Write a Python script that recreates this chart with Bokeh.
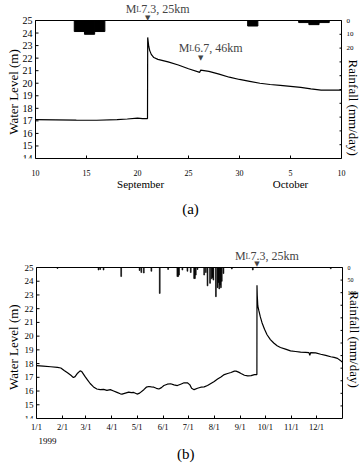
from math import pi

from bokeh.core.properties import value
from bokeh.embed import file_html
from bokeh.layouts import column
from bokeh.models import FixedTicker, Label, LinearAxis, Range1d
from bokeh.plotting import figure
from bokeh.resources import INLINE

SERIF = "Liberation Serif"
WIDTH = 363
BOX_W = 306          # width of the boxed plotting area in pixels

# ---------------- (a) 10 Sep - 10 Oct 1999 (days after 10 Sep 00:00) ----------------
a_time = [0, 2, 4, 6, 8, 9, 10, 10.5, 10.98, 11.0, 11.05, 11.1, 11.2, 11.35, 11.6,
          12, 13, 14, 15, 16.1, 16.2, 17, 18, 19, 20, 21, 22, 23, 24, 25, 26, 27,
          28, 29, 30]
a_level = [17.1, 17.08, 17.06, 17.05, 17.1, 17.15, 17.22, 17.18, 17.18, 23.65, 23.3,
           22.95, 22.6, 22.3, 22.05, 21.9, 21.7, 21.45, 21.15, 20.87, 21.05, 20.95,
           20.72, 20.48, 20.3, 20.15, 20.0, 19.9, 19.83, 19.75, 19.67, 19.55, 19.45,
           19.45, 19.45]
a_rain_day = [4, 5, 6, 21, 26, 27, 28]
a_rain_mm = [8, 10, 8, 4, 1.5, 3, 1.5]
a_day_ticks = [0, 5, 10, 15, 20, 25, 30]
a_day_labels = ["10", "15", "20", "25", "30", "5", "10"]
a_month_ticks = [10.3, 25]
a_month_labels = ["September", "October"]
a_caption_tick = [15.2]
a_caption = ["(a)"]
a_rain_ticks = [0, 10, 20, 30, 40, 50, 60, 70, 80, 90, 100]
a_rain_labelled = [0, 10, 20]
a_events = [11.0, 16.2]
a_event_text = ["7.3, 25km", "6.7, 46km"]

# ---------------- (b) whole year 1999 (day of year, 1 Jan = 0) ----------------
b_day = [0, 8, 17, 25, 29, 33, 37, 41, 44, 46, 49, 52, 54, 58, 61, 64, 68, 72, 76,
         80, 84, 88, 92, 96, 100, 102, 106, 110, 113, 116, 120, 123, 128, 131, 134,
         137, 140, 143, 146, 149, 152, 156, 160, 164, 168, 172, 176, 180, 183, 185,
         188, 192, 196, 200, 204, 208, 212, 216, 220, 224, 228, 232, 236, 238, 241,
         244, 248, 252, 256, 260, 262.9, 263.0, 263.3, 264, 265.3, 267, 269, 272,
         275, 279, 283, 287, 291, 297, 303, 309, 315, 321, 325, 326, 327, 333, 339,
         345, 351, 355, 359, 362, 365]
b_level = [17.85, 17.82, 17.77, 17.72, 17.68, 17.5, 17.33, 17.15, 16.98, 17.05, 17.3,
           17.47, 17.42, 17.05, 16.8, 16.55, 16.3, 16.15, 16.1, 16.12, 16.05, 16.1,
           16.0, 15.9, 15.8, 15.78, 15.85, 15.92, 15.88, 15.9, 15.78, 15.85, 16.1,
           16.28, 16.33, 16.3, 16.28, 16.2, 16.15, 16.25, 16.4, 16.5, 16.53, 16.45,
           16.4, 16.5, 16.6, 16.6, 16.45, 16.2, 16.1, 16.2, 16.28, 16.3, 16.4, 16.55,
           16.7, 16.88, 17.03, 17.2, 17.28, 17.35, 17.45, 17.45, 17.38, 17.28, 17.15,
           17.1, 17.12, 17.2, 17.2, 23.7, 23.0, 22.2, 21.84, 21.4, 20.98, 20.5, 20.1,
           19.75, 19.5, 19.3, 19.17, 19.05, 18.93, 18.88, 18.83, 18.82, 18.8, 18.6,
           18.8, 18.78, 18.68, 18.6, 18.5, 18.45, 18.38, 18.25, 18.1]
b_rain_day = [25, 74, 76, 80, 101, 123, 125, 128, 137, 147, 157, 168, 169, 170, 174,
              180, 184, 188, 189, 190, 192, 200, 202, 204, 207, 209, 210, 211, 214,
              216, 217, 218, 219, 220, 221, 223, 233, 258, 351]
b_rain_mm = [4, 10, 8, 10, 36, 12, 20, 22, 15, 103, 8, 36, 36, 30, 10, 15, 20, 44,
             44, 30, 8, 30, 20, 73, 63, 45, 40, 50, 116, 80, 60, 85, 70, 80, 55, 24,
             6, 10, 5]
b_month_ticks = [0, 31, 59, 90, 120, 151, 181, 212, 243, 273, 304, 334]
b_month_labels = ["1/1", "2/1", "3/1", "4/1", "5/1", "6/1", "7/1", "8/1", "9/1",
                  "10/1", "11/1", "12/1"]
b_year_ticks = [13]
b_year_labels = ["1999"]
b_caption_tick = [178]
b_caption = ["(b)"]
b_rain_ticks = [0, 50, 100, 150, 200, 250, 300, 350, 400, 450, 500, 550, 600]
b_rain_labelled = [0, 50, 100]
b_events = [263.0]
b_event_text = ["7.3, 25km"]

level_lo, level_hi = 14, 25
level_ticks = list(range(level_lo, level_hi + 1))


def text_row(ax, ticks, labels, size, standoff):
    """A below-axis that only carries a row of text at the given positions."""
    ax.axis_line_color = None
    ax.major_tick_line_color = None
    ax.minor_tick_line_color = None
    ax.ticker = FixedTicker(ticks=ticks)
    ax.major_label_overrides = dict(zip(ticks, labels))
    ax.major_label_text_font = SERIF
    ax.major_label_text_font_size = f"{size}px"
    ax.major_label_text_font_style = "normal"
    ax.major_label_text_color = "black"
    ax.major_label_standoff = standoff


def make_panel(height, left_px, top_px, box_h, bottom_px, x_end,
               level_font, level_title_y,
               rain_max, rain_ticks, rain_labelled, rain_font, rain_title_y):
    """Boxed chart. The frame spans the whole width and the strip above the box,
    so the scales, titles and event notes around the box are drawn inside it."""
    right_px = WIDTH - left_px - BOX_W
    px = x_end / BOX_W                       # data units per horizontal pixel
    y_hi = level_hi + (level_hi - level_lo) * top_px / box_h
    rain_top = -rain_max * top_px / box_h
    p = figure(width=WIDTH, height=height,
               x_range=Range1d(-left_px * px, x_end + right_px * px),
               y_range=Range1d(level_lo, y_hi), y_axis_location=None,
               output_backend="svg", toolbar_location=None,
               min_border_left=0, min_border_right=0, min_border_top=0,
               min_border_bottom=bottom_px)
    p.grid.visible = False
    p.outline_line_color = None
    p.background_fill_color = "white"
    p.border_fill_color = "white"
    p.extra_y_ranges = {"rain": Range1d(start=rain_max, end=rain_top)}

    txt = dict(text_font=value(SERIF), text_color="black", text_baseline="middle")

    # left, top and right edges of the box (the bottom edge is the x axis line)
    p.segment(x0=[0, 0, x_end], y0=[level_lo, level_hi, level_lo],
              x1=[0, x_end, x_end], y1=[level_hi, level_hi, level_hi],
              line_color="black", line_width=1)

    # water level scale on the left edge
    n = len(level_ticks)
    p.segment(x0=[0] * n, x1=[3 * px] * n, y0=level_ticks, y1=level_ticks,
              line_color="black", line_width=1)
    p.text(x=[0] * n, y=level_ticks, text=[str(t) for t in level_ticks],
           x_offset=-3, text_align="right", text_font_size=value(level_font), **txt)
    p.text(x=[0], y=[level_title_y], text=["Water Level (m)"], angle=pi / 2,
           x_offset=13 - left_px, text_align="center",
           text_font_size=value("13px"), **txt)

    # rainfall scale on the right edge (0 at the top)
    m = len(rain_ticks)
    p.segment(x0=[x_end] * m, x1=[x_end - 2 * px] * m, y0=rain_ticks, y1=rain_ticks,
              y_range_name="rain", line_color="black", line_width=1)
    p.text(x=[x_end] * len(rain_labelled), y=rain_labelled,
           text=[str(t) for t in rain_labelled], y_range_name="rain", x_offset=5,
           text_align="left", text_font_size=value(rain_font), **txt)
    p.text(x=[x_end], y=[rain_title_y], text=["Rainfall (mm/day)"], angle=-pi / 2,
           x_offset=12, text_align="center", text_font_size=value("13px"), **txt)

    bottom = p.xaxis[0]
    bottom.bounds = (0, x_end)
    bottom.axis_line_color = "black"
    bottom.major_tick_line_color = "black"
    bottom.major_tick_in = 3
    bottom.major_tick_out = 0
    bottom.minor_tick_line_color = None
    bottom.major_label_text_font = SERIF
    bottom.major_label_text_font_style = "normal"
    bottom.major_label_text_color = "black"
    return p


def event_label(p, x, y, text, dy_tri, dy_text, x0=-22):
    p.add_layout(Label(x=x, y=y, text="\u25bc", text_font="DejaVu Sans",
                       text_font_size="7px", text_align="center",
                       text_baseline="middle", y_offset=dy_tri))
    kw = dict(x=x, y=y, text_font=SERIF, text_align="left",
              text_baseline="alphabetic")
    p.add_layout(Label(text="M", text_font_size="12px", x_offset=x0,
                       y_offset=dy_text, **kw))
    p.add_layout(Label(text="L", text_font_size="8px", x_offset=x0 + 10.5,
                       y_offset=dy_text - 0.5, **kw))
    p.add_layout(Label(text=text, text_font_size="12px", x_offset=x0 + 15.5,
                       y_offset=dy_text, **kw))


# ---------------- panel (a) ----------------
pa = make_panel(235, 35, 20, 138, 77, 30, "10px", 19.3,
                100, a_rain_ticks, a_rain_labelled, "7px", 18.05)
bottom_a = pa.xaxis[0]
bottom_a.ticker = FixedTicker(ticks=a_day_ticks)
bottom_a.major_label_overrides = dict(zip(a_day_ticks, a_day_labels))
bottom_a.major_label_text_font_size = "8px"
bottom_a.major_label_standoff = 11
month_a = LinearAxis()
text_row(month_a, a_month_ticks, a_month_labels, 11, -7)
pa.add_layout(month_a, "below")
caption_a = LinearAxis()
text_row(caption_a, a_caption_tick, a_caption, 15, 2)
pa.add_layout(caption_a, "below")

pa.vbar(x=[d + 0.3 for d in a_rain_day], width=1, top=0, bottom=a_rain_mm,
        y_range_name="rain", fill_color="black", line_color="black")
pa.line(a_time, a_level, line_color="black", line_width=1.2)
event_label(pa, a_events[0], level_hi, a_event_text[0], 3, 12)
event_label(pa, a_events[1], 22.0, a_event_text[1], 0, 10.5)

# ---------------- panel (b) ----------------
pb = make_panel(240, 36, 32, 151, 57, 365, "9px", 19.2,
                600, b_rain_ticks, b_rain_labelled, "6px", 19.75)
bottom_b = pb.xaxis[0]
bottom_b.ticker = FixedTicker(ticks=b_month_ticks)
bottom_b.major_label_overrides = dict(zip(b_month_ticks, b_month_labels))
bottom_b.major_label_text_font_size = "8.5px"
bottom_b.major_label_standoff = 3
year_b = LinearAxis()
text_row(year_b, b_year_ticks, b_year_labels, 9, -3)
pb.add_layout(year_b, "below")
caption_b = LinearAxis()
text_row(caption_b, b_caption_tick, b_caption, 15, -7)
pb.add_layout(caption_b, "below")

pb.vbar(x=b_rain_day, width=1, top=0, bottom=b_rain_mm, y_range_name="rain",
        fill_color="black", line_color="black", line_width=0.6)
pb.line(b_day, b_level, line_color="black", line_width=1.2)
event_label(pb, b_events[0], level_hi, b_event_text[0], 4, 12)

layout = column(pa, pb, spacing=0)
open("out.html", "w").write(file_html(layout, INLINE))
